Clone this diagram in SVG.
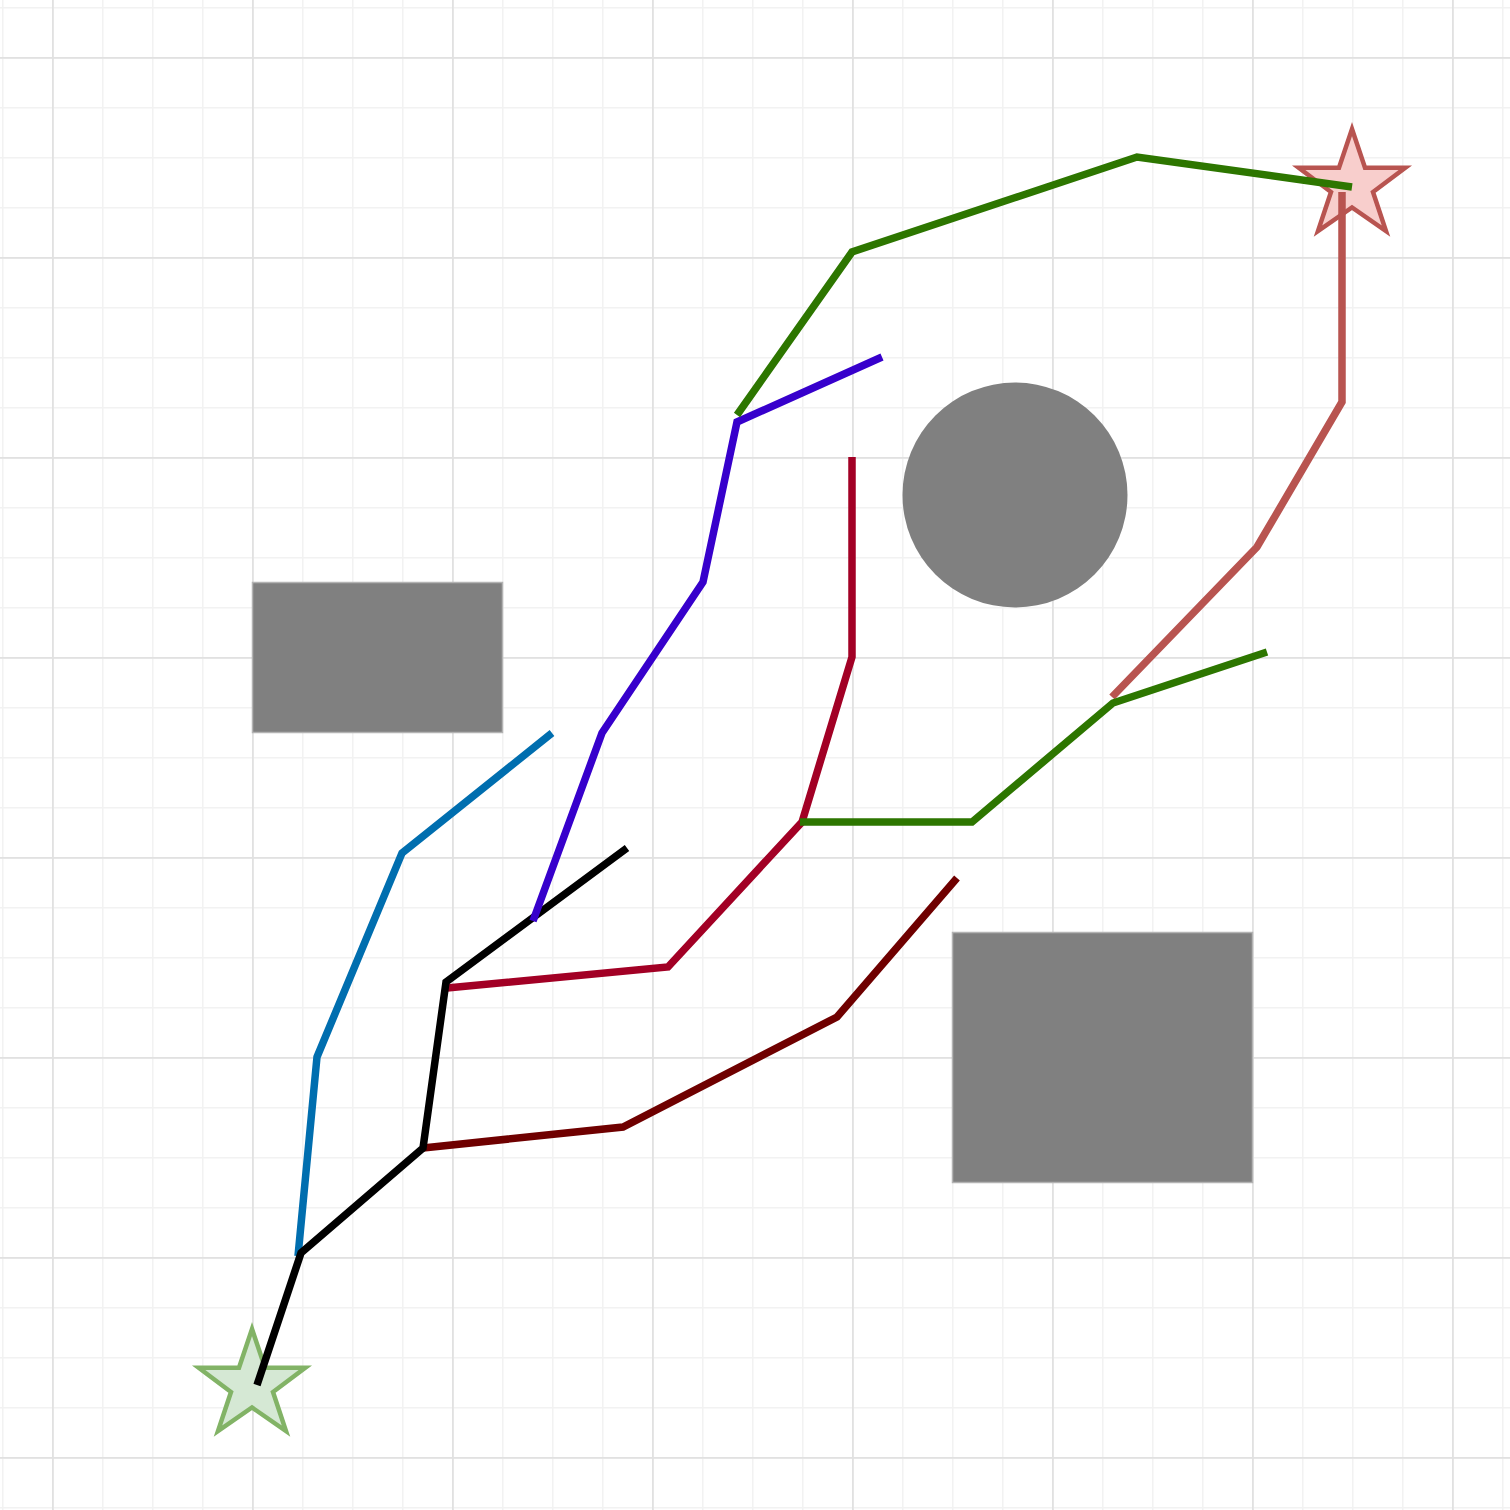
<svg xmlns="http://www.w3.org/2000/svg" width="1510" height="1510" viewBox="0 0 1510 1510">
<defs>
<pattern id="minor" x="2" y="7" width="50" height="50" patternUnits="userSpaceOnUse">
<path d="M0 0H50M0 0V50" fill="none" stroke="#f2f2f2" stroke-width="3"/>
</pattern>
<pattern id="major" x="52" y="57" width="200" height="200" patternUnits="userSpaceOnUse">
<path d="M0 0H200M0 0V200" fill="none" stroke="#e1e1e1" stroke-width="3.5"/>
</pattern>
</defs>
<style>
.obs{fill:#808080;stroke:#b3b3b3;stroke-width:1.5}
.ln{fill:none;stroke-width:7.5;stroke-linejoin:miter;stroke-linecap:butt}
</style>
<rect width="1510" height="1510" fill="#ffffff"/>
<rect width="1510" height="1510" fill="url(#minor)"/>
<rect width="1510" height="1510" fill="url(#major)"/>
<g id="obstacle1"><rect class="obs" x="252.5" y="582.5" width="250" height="150"/></g>
<g id="obstacle2"><circle cx="1015" cy="495" r="112.5" fill="#808080"/></g>
<g id="obstacle3"><rect class="obs" x="952.5" y="932.5" width="300" height="250"/></g>
<g id="goal"><polygon points="1352,129 1365,167.7 1405.3,167.7 1373,192 1386,231 1352,207.5 1318,231 1331,192 1298.7,167.7 1339,167.7" fill="#f8cecc" stroke="#b85450" stroke-width="4.5"/></g>
<g id="start"><polygon points="252,1329 265,1367.7 305.3,1367.7 273,1392 286,1431 252,1407.5 218,1431 231,1392 198.7,1367.7 239,1367.7" fill="#d5e8d4" stroke="#82b366" stroke-width="4.5"/></g>
<g id="connectors">
<polyline class="ln" stroke="#b85450" points="1342,192 1342,402 1257,547 1112,697"/>
<polyline class="ln" stroke="#006eaf" points="298,1256 317,1057 402,853 552,733"/>
<polyline class="ln" stroke="#a20025" points="447,988 668,967 802,822 852,657 852,457"/>
<polyline class="ln" stroke="#6f0000" points="423,1148 623,1127 837,1017 957,878"/>
<polyline class="ln" stroke="#000000" points="257,1385 301,1253 423,1148 446,982 627,848"/>
<polyline class="ln" stroke="#3700cc" points="533,921 602,733 703,582 737,422 882,357"/>
<polyline class="ln" stroke="#2d7600" points="737,415 852,252 1137,157 1352,187"/>
<polyline class="ln" stroke="#2d7600" points="800,822 972,822 1113,703 1267,652"/>
</g>
</svg>
